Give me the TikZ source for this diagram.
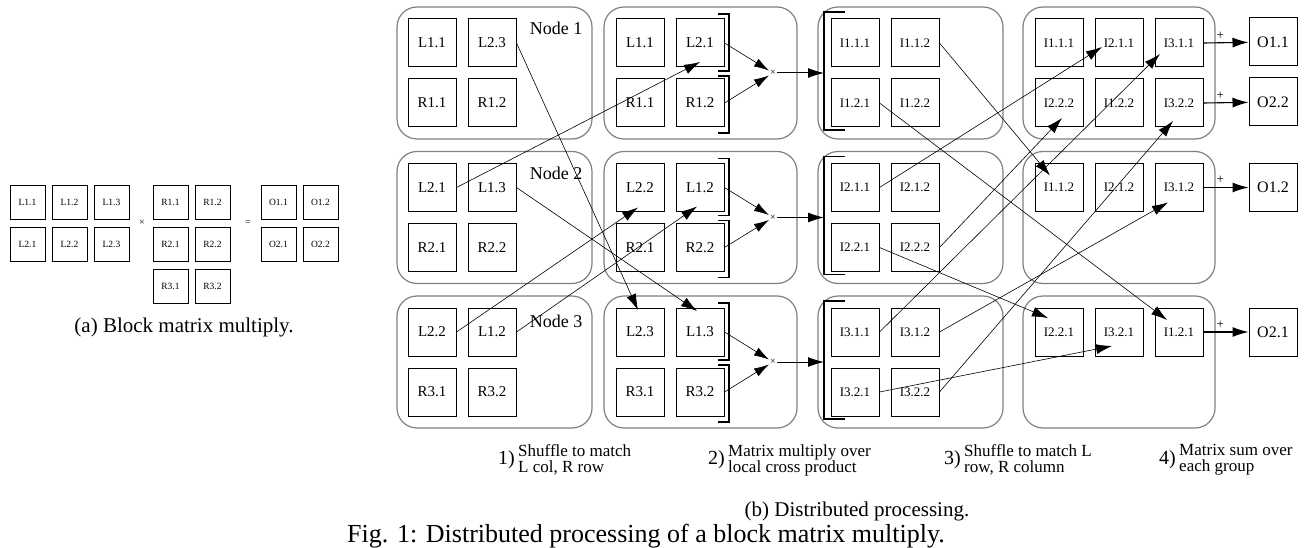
\documentclass[tikz,border=0pt]{standalone}
\usepackage{fontspec}
\setmainfont{Liberation Serif}
\usetikzlibrary{arrows.meta,positioning,calc}
\newcommand{\pxfont}[1]{\fontsize{#1}{#1}\selectfont}

\begin{document}
\begin{tikzpicture}[x=1pt,y=-1pt,
  blk/.style={draw,line width=1pt,minimum size=48pt,inner sep=0pt,font=\pxfont{15}},
  iblk/.style={blk,font=\pxfont{13}},
  oblk/.style={blk,font=\pxfont{16}},
  ablk/.style={draw,line width=0.8pt,minimum width=35pt,minimum height=34pt,inner sep=0pt,font=\pxfont{9.5}},
  grp/.style={draw=gray,line width=1.2pt,rounded corners=20pt},
  brk/.style={line width=1.4pt},
  shf/.style={line width=0.6pt,-{Latex[length=16pt,width=10pt]}},
  mul/.style={line width=0.6pt,-{Latex[length=15pt,width=9pt]}},
  fwd/.style={line width=1pt,-{Latex[length=16pt,width=10pt]}},
  sumarr/.style={line width=1.1pt,-{Latex[length=16pt,width=10pt]}},
  opsign/.style={font=\pxfont{10},inner sep=1pt},
  plussign/.style={font=\pxfont{13},inner sep=1pt},
  grplabel/.style={font=\pxfont{18},inner sep=0pt},
  steptxt/.style={font=\fontsize{17}{16}\selectfont,align=left,inner sep=0pt},
  stepnum/.style={font=\pxfont{20},inner sep=1pt},
  captxt/.style={font=\pxfont{21},inner sep=0pt}]
\useasboundingbox (0,0) rectangle (1311,548);

% (a)
\node[ablk] (mL11) at (27.5,202) {L1.1}; \node[ablk] (mL12) at (69.5,202) {L1.2}; \node[ablk] (mL13) at (111.5,202) {L1.3};
\node[ablk] (mL21) at (27.5,244) {L2.1}; \node[ablk] (mL22) at (69.5,244) {L2.2}; \node[ablk] (mL23) at (111.5,244) {L2.3};
\node[opsign] (mx) at (142,223) {×};
\node[ablk] (mR11) at (170.5,202) {R1.1}; \node[ablk] (mR12) at (212.5,202) {R1.2};
\node[ablk] (mR21) at (170.5,244) {R2.1}; \node[ablk] (mR22) at (212.5,244) {R2.2};
\node[ablk] (mR31) at (170.5,286) {R3.1}; \node[ablk] (mR32) at (212.5,286) {R3.2};
\node[opsign] (meq) at (248,223) {=};
\node[ablk] (mO11) at (278.5,202) {O1.1}; \node[ablk] (mO12) at (320.5,202) {O1.2};
\node[ablk] (mO21) at (278.5,244) {O2.1}; \node[ablk] (mO22) at (320.5,244) {O2.2};
\node[captxt] (capa) at (184,327) {(a) Block matrix multiply.};

% (b) groups
\draw[grp] (397,7) rectangle (592,139); \draw[grp] (604,7) rectangle (797,139);
\draw[grp] (818,7) rectangle (1003,139); \draw[grp] (1023,7) rectangle (1215,139);
\draw[grp] (397,151.5) rectangle (592,283.5); \draw[grp] (604,151.5) rectangle (797,283.5);
\draw[grp] (818,151.5) rectangle (1003,283.5); \draw[grp] (1023,151.5) rectangle (1215,283.5);
\draw[grp] (397,296) rectangle (592,428); \draw[grp] (604,296) rectangle (797,428);
\draw[grp] (818,296) rectangle (1003,428); \draw[grp] (1023,296) rectangle (1215,428);

\node[grplabel] (g1) at (556,28) {Node 1};
\node[grplabel] (g2) at (556,173) {Node 2};
\node[grplabel] (g3) at (556,321) {Node 3};

% column 1
\node[blk] (L11a) at (432,43) {L1.1}; \node[blk] (L23a) at (492,43) {L2.3};
\node[blk] (R11a) at (432,103) {R1.1}; \node[blk] (R12a) at (492,103) {R1.2};
\node[blk] (L21a) at (432,187.5) {L2.1}; \node[blk] (L13a) at (492,187.5) {L1.3};
\node[blk] (R21a) at (432,247.5) {R2.1}; \node[blk] (R22a) at (492,247.5) {R2.2};
\node[blk] (L22a) at (432,332) {L2.2}; \node[blk] (L12a) at (492,332) {L1.2};
\node[blk] (R31a) at (432,392) {R3.1}; \node[blk] (R32a) at (492,392) {R3.2};

% column 2
\node[blk] (L11b) at (640,43) {L1.1}; \node[blk] (L21b) at (700,43) {L2.1};
\node[blk] (R11b) at (640,103) {R1.1}; \node[blk] (R12b) at (700,103) {R1.2};
\node[blk] (L22b) at (640,187.5) {L2.2}; \node[blk] (L12b) at (700,187.5) {L1.2};
\node[blk] (R21b) at (640,247.5) {R2.1}; \node[blk] (R22b) at (700,247.5) {R2.2};
\node[blk] (L23b) at (640,332) {L2.3}; \node[blk] (L13b) at (700,332) {L1.3};
\node[blk] (R31b) at (640,392) {R3.1}; \node[blk] (R32b) at (700,392) {R3.2};

\draw[brk] (718,14)--(729,14)--(729,71)--(718,71) (718,76)--(729,76)--(729,133)--(718,133);
\draw[brk] (718,158.5)--(729,158.5)--(729,215.5)--(718,215.5) (718,220.5)--(729,220.5)--(729,277.5)--(718,277.5);
\draw[brk] (718,303)--(729,303)--(729,360)--(718,360) (718,365)--(729,365)--(729,422)--(718,422);
\node[opsign] (x1) at (773,73) {×}; \node[opsign] (x2) at (773,217.5) {×}; \node[opsign] (x3) at (773,362) {×};

% column 3
\node[iblk] (I111c) at (855,43) {I1.1.1}; \node[iblk] (I112c) at (915,43) {I1.1.2};
\node[iblk] (I121c) at (855,103) {I1.2.1}; \node[iblk] (I122c) at (915,103) {I1.2.2};
\node[iblk] (I211c) at (855,187.5) {I2.1.1}; \node[iblk] (I212c) at (915,187.5) {I2.1.2};
\node[iblk] (I221c) at (855,247.5) {I2.2.1}; \node[iblk] (I222c) at (915,247.5) {I2.2.2};
\node[iblk] (I311c) at (855,332) {I3.1.1}; \node[iblk] (I312c) at (915,332) {I3.1.2};
\node[iblk] (I321c) at (855,392) {I3.2.1}; \node[iblk] (I322c) at (915,392) {I3.2.2};

\draw[brk] (845,12)--(824,12)--(824,130)--(845,130);
\draw[brk] (845,156.5)--(824,156.5)--(824,274.5)--(845,274.5);
\draw[brk] (845,301)--(824,301)--(824,419)--(845,419);
\coordinate (c1) at (824,73); \coordinate (c2) at (824,217.5); \coordinate (c3) at (824,362);

% column 4
\node[iblk] (I111d) at (1059,43) {I1.1.1}; \node[iblk] (I211d) at (1119,43) {I2.1.1}; \node[iblk] (I311d) at (1179,43) {I3.1.1};
\node[iblk] (I222d) at (1059,103) {I2.2.2}; \node[iblk] (I122d) at (1119,103) {I1.2.2}; \node[iblk] (I322d) at (1179,103) {I3.2.2};
\node[iblk] (I112d) at (1059,187.5) {I1.1.2}; \node[iblk] (I212d) at (1119,187.5) {I2.1.2}; \node[iblk] (I312d) at (1179,187.5) {I3.1.2};
\node[iblk] (I221d) at (1059,332) {I2.2.1}; \node[iblk] (I321d) at (1119,332) {I3.2.1}; \node[iblk] (I121d) at (1179,332) {I1.2.1};

\node[oblk] (O11) at (1273,42) {O1.1}; \node[oblk] (O22) at (1273,102) {O2.2};
\node[oblk] (O12) at (1273,187.5) {O1.2}; \node[oblk] (O21) at (1273,332) {O2.1};

% 1) shuffle
\draw[shf] (L23a.east) -- ($(L23b.center)+(-2,-22)$);
\draw[shf] (L21a.east) -- ($(L21b.center)+(0,19)$);
\draw[shf] (L13a.east) -- ($(L13b.center)+(-3,-21)$);
\draw[shf] (L22a.east) -- ($(L22b.center)+(-2,20)$);
\draw[shf] (L12a.east) -- ($(L12b.center)+(-3,19)$);

% 2) multiply
\draw[mul] (L21b.east) -- (x1); \draw[mul] (R12b.east) -- (x1); \draw[fwd] (x1) -- (c1);
\draw[mul] (L12b.east) -- (x2); \draw[mul] (R22b.east) -- (x2); \draw[fwd] (x2) -- (c2);
\draw[mul] (L13b.east) -- (x3); \draw[mul] (R32b.east) -- (x3); \draw[fwd] (x3) -- (c3);

% 3) shuffle
\draw[shf] (I112c.east) -- ($(I112d.center)+(-9,-12)$);
\draw[shf] (I121c.east) -- ($(I121d.center)+(-12,-12)$);
\draw[shf] (I211c.east) -- ($(I211d.center)+(-17,4)$);
\draw[shf] (I222c.east) -- ($(I222d.center)+(3,15)$);
\draw[shf] (I221c.east) -- ($(I221d.center)+(-11,-14)$);
\draw[shf] (I311c.east) -- ($(I311d.center)+(-19,11)$);
\draw[shf] (I312c.east) -- ($(I312d.center)+(-11,15)$);
\draw[shf] (I322c.east) -- ($(I322d.center)+(-6,18)$);
\draw[shf] (I321c.east) -- ($(I321d.center)+(-7,14)$);

% 4) sum
\draw[sumarr] (I311d.east) -- node[plussign,pos=.37,above=2pt] {+} (O11);
\draw[sumarr] (I322d.east) -- node[plussign,pos=.37,above=2pt] {+} (O22);
\draw[sumarr] (I312d.east) -- node[plussign,pos=.37,above=2pt] {+} (O12);
\draw[sumarr] (I121d.east) -- node[plussign,pos=.37,above=2pt] {+} (O21);

% steps
\node[steptxt,anchor=west] (t1) at (518,460) {Shuffle to match\\L col, R row};
\node[stepnum,left=2pt of t1] (n1) {1)};
\node[steptxt,anchor=west] (t2) at (728,460) {Matrix multiply over\\local cross product};
\node[stepnum,left=2pt of t2] (n2) {2)};
\node[steptxt,anchor=west] (t3) at (964,460) {Shuffle to match L\\row, R column};
\node[stepnum,left=2pt of t3] (n3) {3)};
\node[steptxt,anchor=west] (t4) at (1179,460) {Matrix sum over\\each group};
\node[stepnum,left=2pt of t4] (n4) {4)};

\node[captxt,anchor=base] (capb) at (857,516) {(b) Distributed processing.};
\node[captxt,font=\pxfont{26},anchor=base west] (fig) at (347,542) {Fig. 1: Distributed processing of a block matrix multiply.};
\end{tikzpicture}
\end{document}
